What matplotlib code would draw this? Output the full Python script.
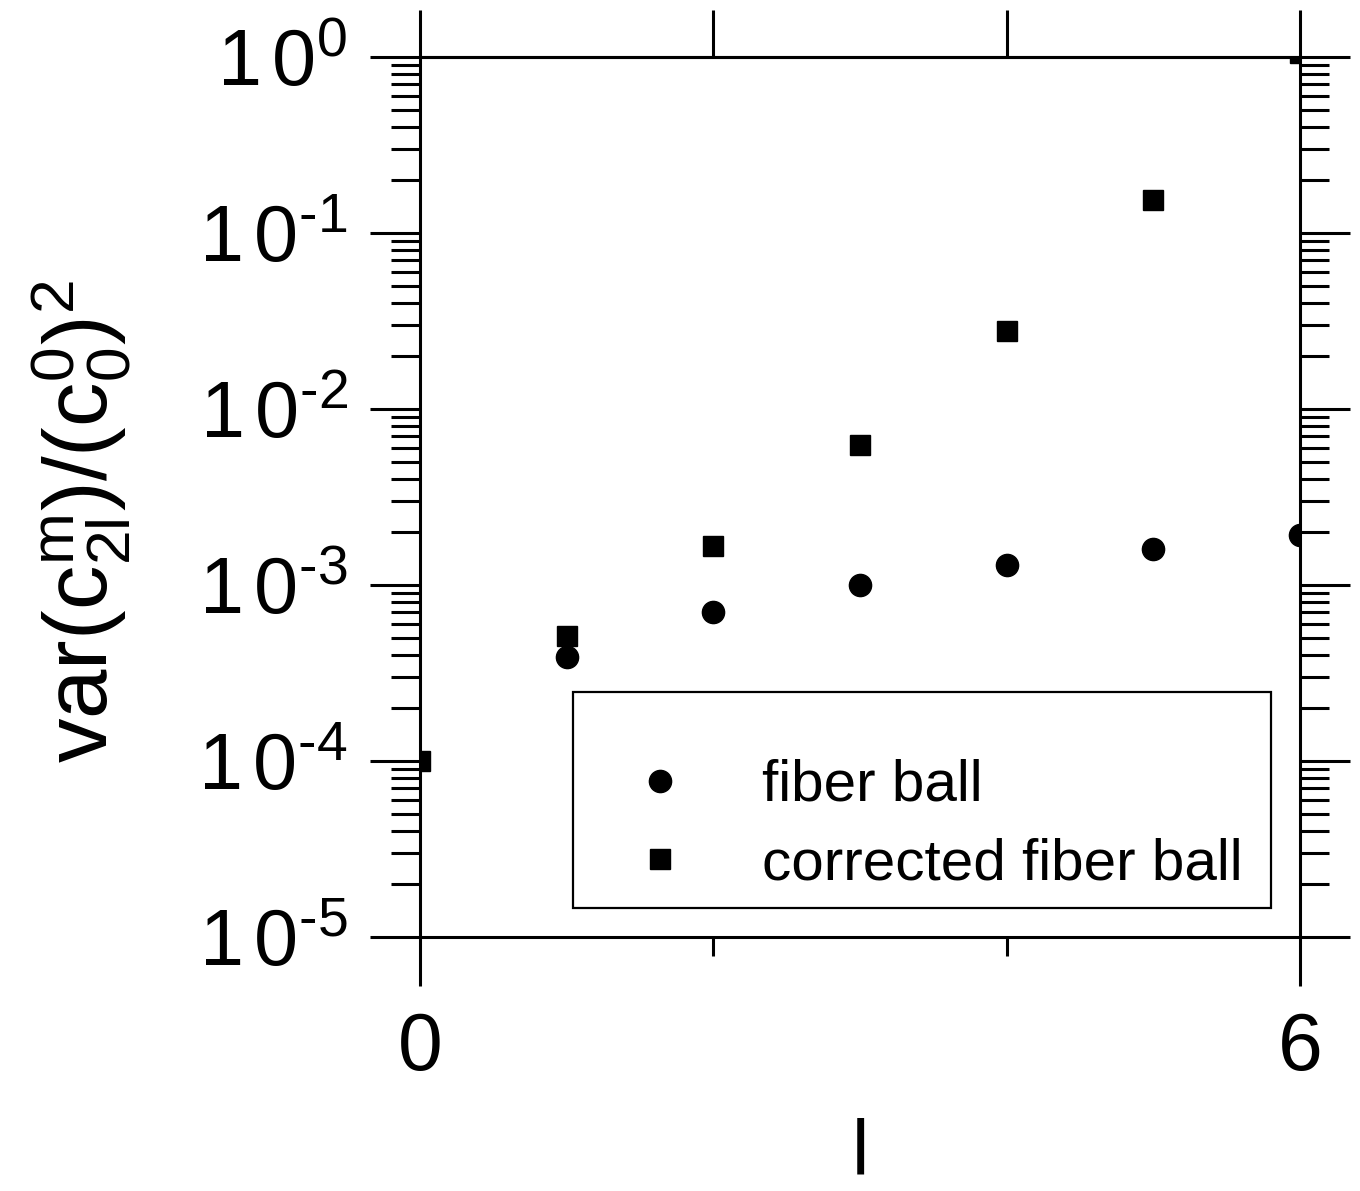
import numpy as np
import matplotlib
matplotlib.use("Agg")
import matplotlib.pyplot as plt
from matplotlib.patches import Rectangle
from matplotlib.ticker import FixedLocator, NullFormatter

# fonts: helvetica-like everywhere, including mathtext
plt.rcParams['font.family'] = ['Liberation Sans', 'DejaVu Sans']
plt.rcParams['mathtext.fontset'] = 'custom'
plt.rcParams['mathtext.rm'] = 'Liberation Sans'
plt.rcParams['mathtext.it'] = 'Liberation Sans'
plt.rcParams['mathtext.bf'] = 'Liberation Sans:bold'

# data
l_fiber = [1, 2, 3, 4, 5, 6]
var_fiber = [3.9e-4, 7.0e-4, 1.0e-3, 1.3e-3, 1.6e-3, 1.92e-3]

l_corr = [0, 1, 2, 3, 4, 5, 6]
var_corr = [1.0e-4, 5.1e-4, 1.67e-3, 6.2e-3, 2.77e-2, 0.154, 1.05]

labels = ['fiber ball', 'corrected fiber ball']
x_labeled = [0, 6]
x_unlabeled = [2, 4]
y_decades = [1e-5, 1e-4, 1e-3, 1e-2, 1e-1, 1e0]
y_ticklabels = ['$1\\,0^{\u20105}$', '$1\\,0^{\u20104}$', '$1\\,0^{\u20103}$',
                '$1\\,0^{\u20102}$', '$1\\,0^{\u20101}$', '$1\\,0^{0}$']

fig = plt.figure(figsize=(13.6, 11.91), dpi=100)
ax = fig.add_axes([0.3088, 0.2133, 0.6471, 0.7389])

lw = 2.2
circ, = ax.plot(l_fiber, var_fiber, 'o', color='black', markersize=16,
                linestyle='none')
sq, = ax.plot(l_corr, var_corr, 's', color='black', markersize=15,
              linestyle='none')

ax.set_yscale('log')
ax.set_xlim(0, 6)
ax.set_ylim(1e-5, 1e0)

for s in ax.spines.values():
    s.set_linewidth(lw)

# y axis: long outward major ticks, minor ticks 2..9 on both sides
minor_y = [m * d for d in y_decades[:-1] for m in range(2, 10)]
ax.yaxis.set_major_locator(FixedLocator(y_decades))
ax.set_yticklabels(y_ticklabels)
ax.yaxis.set_minor_locator(FixedLocator(minor_y))
ax.yaxis.set_minor_formatter(NullFormatter())
ax.tick_params(axis='y', which='major', direction='out', length=36, width=lw,
               left=True, right=True, labelsize=57, pad=16)
ax.tick_params(axis='y', which='minor', direction='out', length=21, width=lw,
               left=True, right=True)

# x axis: labeled ends, short unlabeled ticks at 2 and 4 on the bottom
ax.xaxis.set_major_locator(FixedLocator(x_labeled))
ax.xaxis.set_minor_locator(FixedLocator(x_unlabeled))
ax.tick_params(axis='x', which='major', direction='out', length=35, width=lw,
               bottom=True, top=False, labelsize=58, pad=18)
ax.tick_params(axis='x', which='minor', direction='out', length=14, width=lw,
               bottom=True, top=False)

top = ax.secondary_xaxis('top')
top.set_xticks(x_labeled + x_unlabeled)
top.tick_params(axis='x', direction='out', length=34, width=lw, labeltop=False)
top.spines['top'].set_linewidth(lw)

ax.set_xlabel('l', fontsize=56, labelpad=22)
ax.set_ylabel(r'$\mathrm{var(c_{2l}^{m})/(c_{0}^{0})^{2}}$', fontsize=64)
ax.yaxis.set_label_coords(-0.325, 0.472)

# legend box
ax.add_patch(Rectangle((0.174, 0.033), 0.793, 0.245, transform=ax.transAxes,
                       fill=False, edgecolor='black', linewidth=1.6, zorder=5))
ax.legend([circ, sq], labels, loc='lower left', bbox_to_anchor=(0.183, -0.008),
          frameon=False, fontsize=42, handlelength=0.9, handletextpad=1.3,
          labelspacing=0.42, markerscale=1.0)

fig.savefig('out.png', dpi=100)
